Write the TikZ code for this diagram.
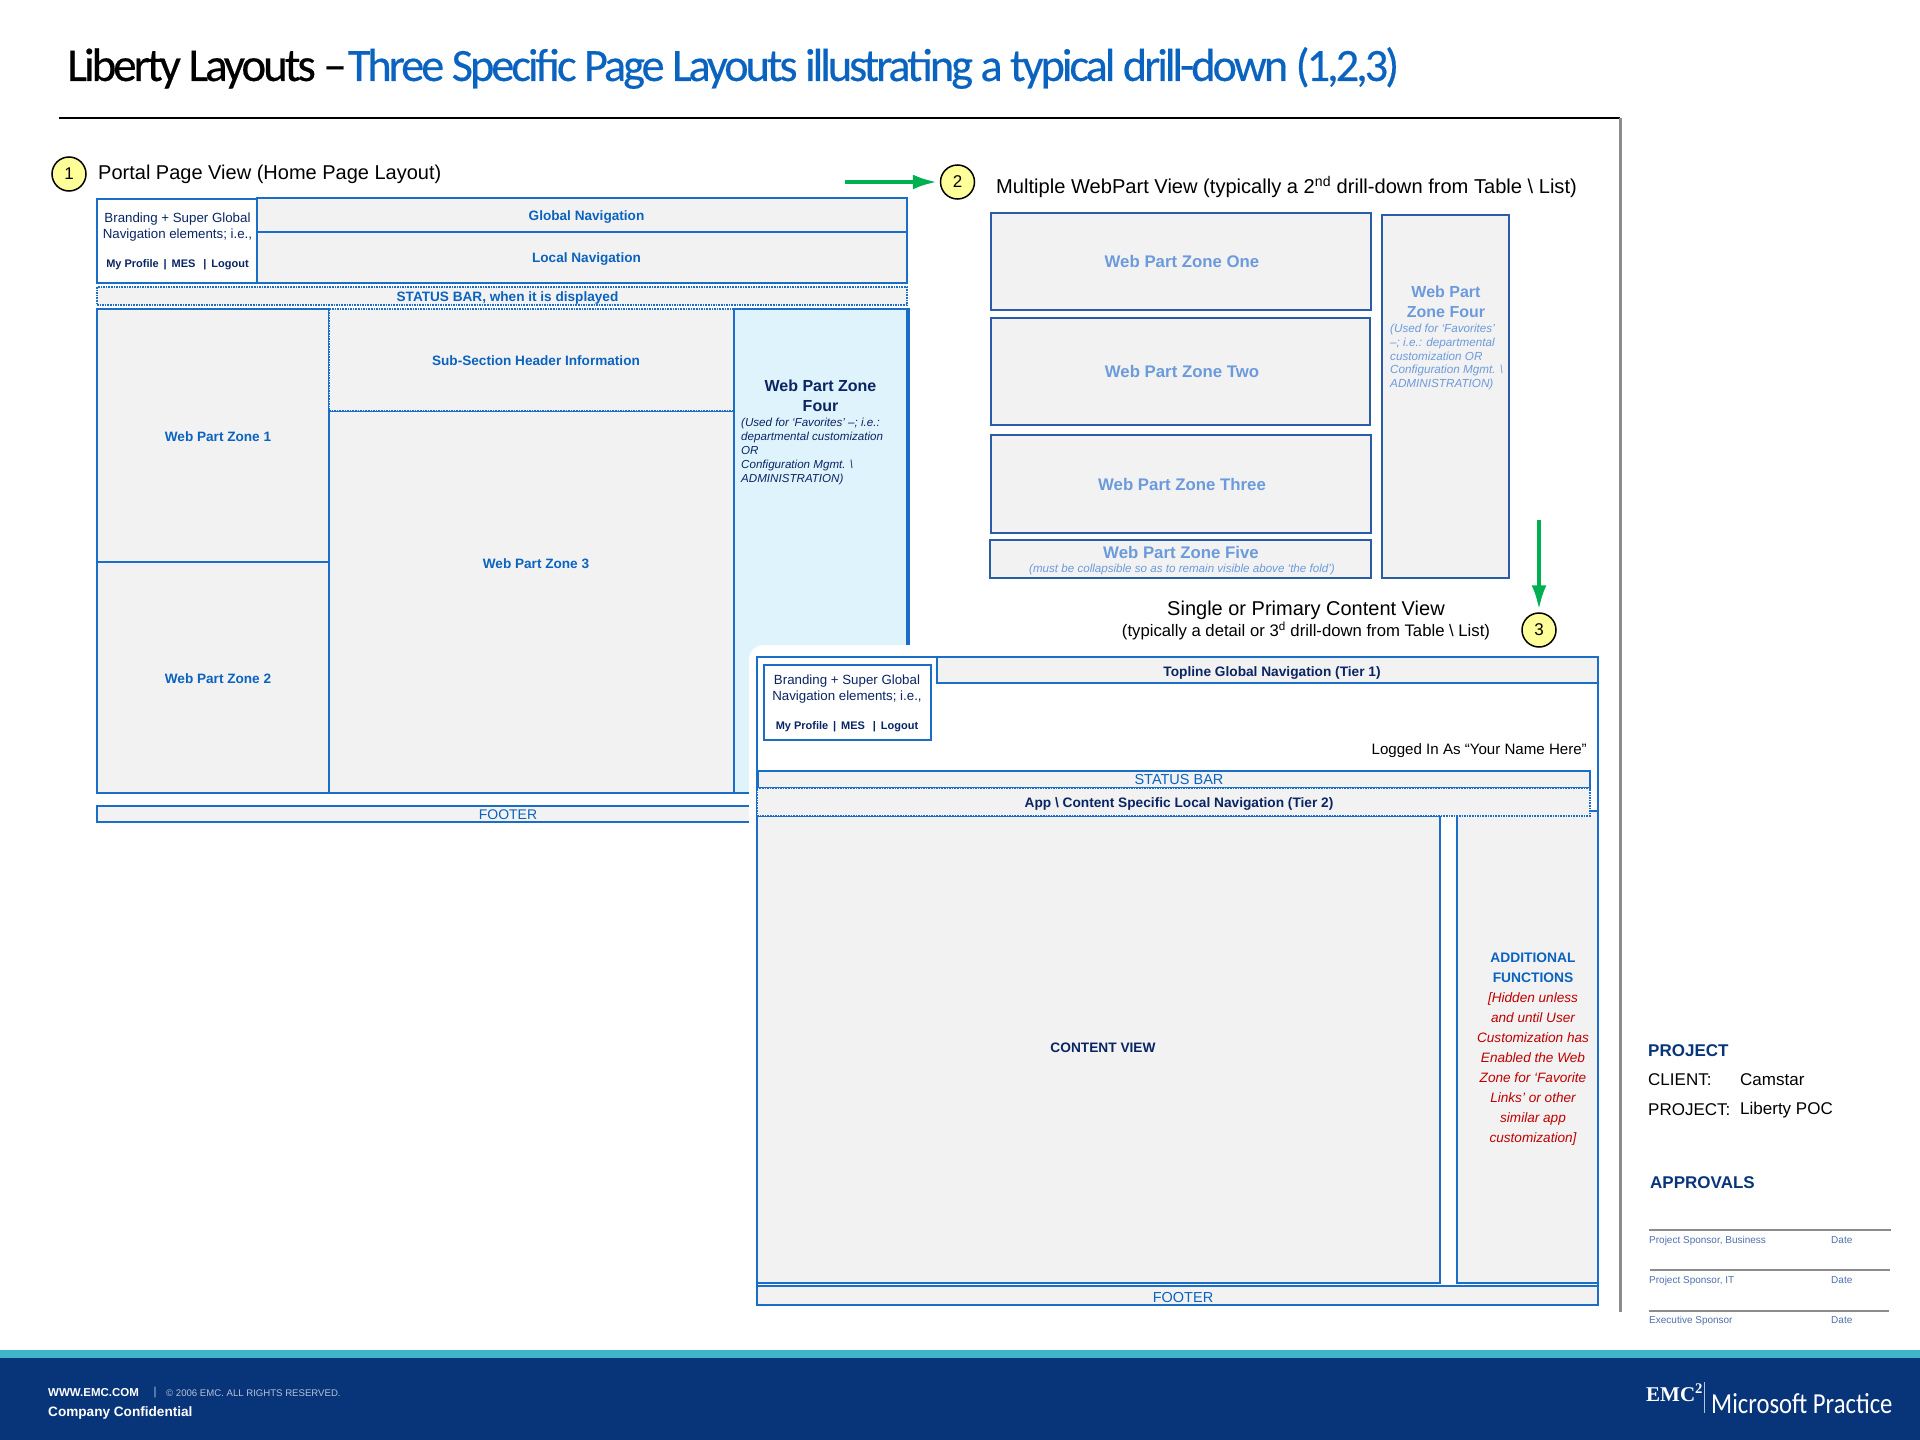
\documentclass[tikz,border=0pt]{standalone}
\usepackage{fontspec}
\setmainfont{Liberation Sans}
\newfontfamily\TitleFont[LetterSpace=-6.5,FakeBold=0.4]{Carlito}
\newfontfamily\LogoFont[FakeStretch=0.85]{Carlito}
\newfontfamily\EmcFont{Liberation Serif}
\usetikzlibrary{arrows.meta}
\definecolor{Rim}{HTML}{1B6EC8}
\definecolor{RimTwo}{HTML}{2A5CA8}
\definecolor{Pane}{HTML}{F2F2F2}
\definecolor{Sky}{HTML}{DFF3FD}
\definecolor{Link}{HTML}{0B63C0}
\definecolor{Pale}{HTML}{6C9BDC}
\definecolor{Navy}{HTML}{0A2564}
\definecolor{Band}{HTML}{08357A}
\definecolor{Teal}{HTML}{3FB5C9}
\definecolor{Arrow}{HTML}{00B050}
\definecolor{Marker}{HTML}{FFFF99}
\definecolor{Crimson}{HTML}{C00000}
\definecolor{Rule}{HTML}{8C8C8C}
\definecolor{Sign}{HTML}{4F6FAE}
\newcommand{\Unit}{1pt}
\newcommand{\Fnt}[2]{\fontsize{#1}{#2}\selectfont}
\tikzset{Zone/.style={
    inner sep=0pt,
    draw=Rim,
    line width=2pt,
    fill=Pane,
    }
}
\tikzset{ZoneTwo/.style={Zone,draw=RimTwo}}
\tikzset{Dots/.style={Zone,line width=1.6pt,densely dotted}}
\begin{document}
\begin{tikzpicture}[x=\Unit,y=-\Unit,
    txt/.style={inner sep=0pt,align=center,yshift=-0.7pt},
    bluetxt/.style={txt,text=Link,font=\bfseries\Fnt{13.6}{16}},
    navytxt/.style={txt,text=Navy,font=\bfseries\Fnt{13.7}{16}},
    paletxt/.style={txt,text=Pale,font=\bfseries\Fnt{16.8}{20}},
    brand/.style={txt,text=Navy,font=\Fnt{13.3}{16}},
    brandlinks/.style={txt,text=Navy,font=\bfseries\Fnt{11}{13}},
    marker/.style={circle,draw=black,line width=1.5pt,fill=Marker,minimum size=34pt,inner sep=0pt,font=\Fnt{17}{20}},
    go/.style={-{Latex[length=24pt,width=15pt]},draw=Arrow,line width=3.5pt,shorten >=3pt},
    sign/.style={inner sep=0pt,anchor=base west,text=Sign,font=\Fnt{10}{12}},
    rulex/.style={draw=Rule,line width=2.5pt},
]
\useasboundingbox (0,0) rectangle (1920,1440);

\node (title) [inner sep=0pt,anchor=west,font=\TitleFont\Fnt{47}{50}] at (67,68) {Liberty Layouts –\hspace{1pt}\textcolor{Link}{\Fnt{46.3}{50}Three Specific Page Layouts illustrating a typical drill-down (1,2,3)}};
\draw [black,line width=1.5pt] (59,118) -- (1620,118);
\draw [Rule,line width=3pt] (1620,118) -- (1620,1312);

% layout 1
\node (one) [marker] at (69,174) {1};
\node (onehead) [txt,anchor=west,font=\Fnt{20}{24}] at (98,174) {Portal Page View (Home Page Layout)};
\node (gnav) [Zone,minimum width=650,minimum height=34] at (582,215) {};
\node (gnavtxt) [bluetxt] at (586.5,216.5) {Global Navigation};
\node (lnav) [Zone,minimum width=650,minimum height=51] at (582,257.5) {};
\node (lnavtxt) [bluetxt] at (586.5,258.5) {Local Navigation};
\node (brandone) [Zone,fill=white,minimum width=160,minimum height=84] at (177,241) {};
\node (brandonetxt) [brand] at (177.5,226) {Branding + Super Global\\Navigation elements; i.e.,};
\node (brandonelinks) [brandlinks] at (177.5,264) {My Profile \,|\, MES \,\ |\, Logout};
\node (statusone) [Dots,minimum width=810,minimum height=18] at (502,296) {};
\node (statusonetxt) [bluetxt] at (507.5,297) {STATUS BAR, when it is displayed};
\node (wpzone) [Zone,minimum width=232,minimum height=253] at (213,435.5) {};
\node (wpzonetxt) [bluetxt] at (218,436) {Web Part Zone 1};
\node (wpztwo) [Zone,minimum width=232,minimum height=231] at (213,677.5) {};
\node (wpztwotxt) [bluetxt] at (218,678) {Web Part Zone 2};
\node (wpzthree) [Zone,minimum width=405,minimum height=382] at (531.5,602) {};
\node (wpzthreetxt) [bluetxt] at (536,563) {Web Part Zone 3};
\node (subsec) [Dots,minimum width=405,minimum height=102] at (531.5,360) {};
\node (subsectxt) [bluetxt] at (536,360) {Sub-Section Header Information};
\node (wpzfour) [Zone,fill=Sky,minimum width=173,minimum height=484] at (820.5,551) {};
\draw [Rim,line width=3pt] (wpzfour.north east) -- (wpzfour.south east);
\node (wpzfourtxt) [txt,text=Navy,font=\bfseries\Fnt{16}{20}] at (820.5,395) {Web Part Zone\\Four};
\node (wpzfournote) [txt,anchor=north west,align=left,text=Navy,font=\itshape\Fnt{11.6}{14}] at (741,417.5) {(Used for ‘Favorites’ –; i.e.:\\departmental customization\\OR\\Configuration Mgmt. \textbackslash\\ADMINISTRATION)};
\node (footone) [Zone,minimum width=822,minimum height=16] at (508,814) {};
\node (footonetxt) [txt,text=Link,font=\Fnt{14}{16}] at (508,814) {FOOTER};

% layout 2
\coordinate (gofrom) at (845,182);
\node (two) [marker] at (957.5,182) {2};
\draw [go] (gofrom) -- (two);
\node (twohead) [txt,anchor=west,font=\Fnt{20.1}{24}] at (996,186.5) {Multiple WebPart View (typically a 2\textsuperscript{nd} drill-down from Table \textbackslash\ List)};
\node (zoneone) [ZoneTwo,minimum width=380,minimum height=97] at (1181,261.5) {};
\node (zoneonetxt) [paletxt] at (1182,261) {Web Part Zone One};
\node (zonetwo) [ZoneTwo,minimum width=379,minimum height=107] at (1180.5,371.5) {};
\node (zonetwotxt) [paletxt] at (1182,371) {Web Part Zone Two};
\node (zonethree) [ZoneTwo,minimum width=380,minimum height=98] at (1181,484) {};
\node (zonethreetxt) [paletxt] at (1182,484) {Web Part Zone Three};
\node (zonefive) [ZoneTwo,minimum width=381,minimum height=38] at (1180.5,559) {};
\node (zonefivetxt) [paletxt] at (1181,552) {Web Part Zone Five};
\node (zonefivenote) [txt,text=Pale,font=\itshape\Fnt{11.6}{12}] at (1182,569) {(must be collapsible so as to remain visible above ‘the fold’)};
\node (zonefour) [ZoneTwo,minimum width=127,minimum height=363] at (1445.5,396.5) {};
\node (zonefourtxt) [txt,text=Pale,font=\bfseries\Fnt{16}{20}] at (1446,301) {Web Part\\Zone Four};
\node (zonefournote) [txt,anchor=north west,align=left,text=Pale,font=\itshape\Fnt{11.7}{13.7}] at (1390,323.5) {(Used for ‘Favorites’\\–; i.e.: departmental\\customization OR\\Configuration Mgmt. \textbackslash\\ADMINISTRATION)};

% layout 3
\node (threehead) [txt,font=\Fnt{20}{24}] at (1306,610) {Single or Primary Content View};
\node (threesub) [txt,font=\Fnt{16.7}{20}] at (1306,630) {(typically a detail or 3\textsuperscript{d} drill-down from Table \textbackslash\ List)};
\node (panel) [fill=white,rounded corners=14pt,inner sep=0pt,minimum width=861,minimum height=675] at (1179.5,982.5) {};
\coordinate (downfrom) at (1539,520);
\node (three) [marker] at (1539,630) {3};
\draw [go] (downfrom) -- (three);
\node (framethree) [Zone,fill=white,minimum width=841,minimum height=648] at (1177.5,981) {};
\node (topline) [Zone,minimum width=661,minimum height=26] at (1267.5,670) {};
\node (toplinetxt) [navytxt] at (1272,672) {Topline Global Navigation (Tier 1)};
\node (brandthree) [Zone,fill=white,minimum width=167,minimum height=75] at (847.5,702.5) {};
\node (brandthreetxt) [brand] at (847,688) {Branding + Super Global\\Navigation elements; i.e.,};
\node (brandthreelinks) [brandlinks] at (847,726) {My Profile \,|\, MES \,\ |\, Logout};
\node (logged) [txt,anchor=east,font=\Fnt{15.1}{16}] at (1587,750) {Logged In As “Your Name Here”};
\node (addfn) [Zone,minimum width=141,minimum height=472] at (1527.5,1047) {};
\node (addfntxt) [txt,text=Link,anchor=north,font=\bfseries\Fnt{13.8}{20}] at (1533,952) {ADDITIONAL\\FUNCTIONS};
\node (addfnnote) [txt,text=Crimson,anchor=north,font=\itshape\Fnt{13.6}{20}] at (1533,992) {[Hidden unless\\and until User\\Customization has\\Enabled the Web\\Zone for ‘Favorite\\Links’ or other\\similar app\\customization]};
\node (statusthree) [Zone,minimum width=832,minimum height=17] at (1174,779.5) {};
\node (statusthreetxt) [txt,text=Link,font=\Fnt{14.5}{16}] at (1179,779) {STATUS BAR};
\node (content) [Zone,minimum width=683,minimum height=467] at (1098.5,1049.5) {};
\node (contenttxt) [navytxt] at (1103,1047) {CONTENT VIEW};
\node (app) [Dots,minimum width=833,minimum height=28] at (1173.5,802) {};
\node (apptxt) [navytxt] at (1179,803) {App \textbackslash\ Content Specific Local Navigation (Tier 2)};
\node (footthree) [Zone,minimum width=841,minimum height=19] at (1177.5,1295.5) {};
\node (footthreetxt) [txt,text=Link,font=\Fnt{14.5}{16}] at (1183,1297) {FOOTER};

% side block
\node (project) [txt,anchor=west,text=Band,font=\bfseries\Fnt{17}{20}] at (1648,1050) {PROJECT};
\node (client) [txt,anchor=west,font=\Fnt{17}{20}] at (1648,1079) {CLIENT:};
\node (camstar) [txt,anchor=west,font=\Fnt{17}{20}] at (1740,1079) {Camstar};
\node (projectkey) [txt,anchor=west,font=\Fnt{17}{20}] at (1648,1109) {PROJECT:};
\node (poc) [txt,anchor=west,font=\Fnt{17}{20}] at (1740,1109) {Liberty POC};
\node (approvals) [txt,anchor=west,text=Band,font=\bfseries\Fnt{17}{20}] at (1650,1182) {APPROVALS};
\draw [rulex] (1649,1230) -- (1891,1230);
\draw [rulex] (1650,1270) -- (1890,1270);
\draw [rulex] (1649,1311) -- (1889,1311);
\node (signa) [sign] at (1649,1243) {Project Sponsor, Business};
\node (datea) [sign] at (1831,1243) {Date};
\node (signb) [sign] at (1649,1283) {Project Sponsor, IT};
\node (dateb) [sign] at (1831,1283) {Date};
\node (signc) [sign] at (1649,1323) {Executive Sponsor};
\node (datec) [sign] at (1831,1323) {Date};

% bottom band
\fill [Teal] (0,1350) rectangle (1920,1358);
\fill [Band] (0,1358) rectangle (1920,1440);
\node (www) [txt,anchor=west,text=white,font=\bfseries\Fnt{11.5}{14}] at (48,1392) {WWW.EMC.COM};
\node (bar) [txt,text=white!70!Band,font=\Fnt{11.5}{14}] at (155,1392) {|};
\node (copy) [txt,anchor=west,text=white!70!Band,font=\Fnt{9.6}{14}] at (166,1392) {© 2006 EMC. ALL RIGHTS RESERVED.};
\node (conf) [txt,anchor=west,text=white,font=\bfseries\Fnt{13.6}{16}] at (48,1412) {Company Confidential};
\node (emc) [txt,anchor=west,text=white,font=\EmcFont\bfseries\Fnt{21}{24}] at (1646,1392) {EMC\textsuperscript{2}};
\draw [white!70!Band,line width=1pt] (1704,1382) -- (1704,1413);
\node (practice) [txt,anchor=west,text=white,font=\LogoFont\Fnt{29}{30}] at (1711,1403) {Microsoft Practice};
\end{tikzpicture}
\end{document}
